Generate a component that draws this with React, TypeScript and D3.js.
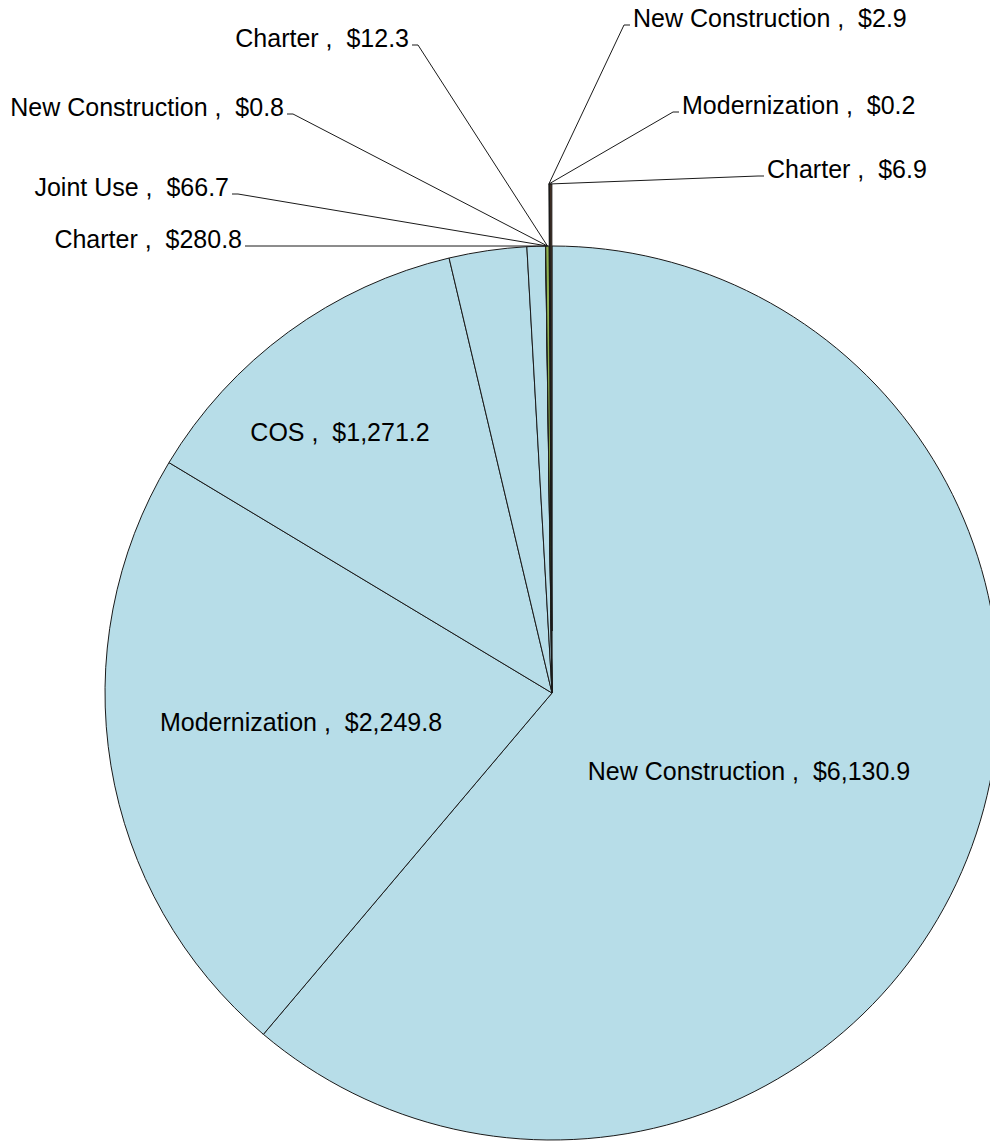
import React, { useEffect, useRef } from 'react';
import * as d3 from 'd3';

const categories = [
  'New Construction',
  'Modernization',
  'COS',
  'Charter',
  'Joint Use',
  'New Construction',
  'Charter',
  'New Construction',
  'Modernization',
  'Charter',
];
const values = [6130.9, 2249.8, 1271.2, 280.8, 66.7, 0.8, 12.3, 2.9, 0.2, 6.9];
// colour group of each slice, and which slices are pulled out of the pie
const groups = [0, 0, 0, 0, 0, 0, 1, 2, 2, 2];
const exploded = [false, false, false, false, false, false, false, true, true, true];

const colors = ['#b7dde8', '#8fb24f', '#5e3f2c'];

// where each label sits (baseline), and which way it is anchored
const labelLayout = [
  { x: 749, y: 780, anchor: 'middle' },
  { x: 301, y: 731, anchor: 'middle' },
  { x: 340, y: 441, anchor: 'middle' },
  { x: 242, y: 248, anchor: 'end' },
  { x: 229, y: 196, anchor: 'end' },
  { x: 284, y: 116, anchor: 'end' },
  { x: 409, y: 47, anchor: 'end' },
  { x: 633, y: 27, anchor: 'start' },
  { x: 682, y: 114, anchor: 'start' },
  { x: 767, y: 178, anchor: 'start' },
];

const App = () => {
  const ref = useRef<SVGSVGElement>(null);

  useEffect(() => {
    const svg = d3.select(ref.current);
    svg.selectAll('*').remove();

    const width = 990;
    const height = 1142;
    const cx = 552;
    const cy = 693;
    const radius = 447;
    const explode = 62;
    const fontSize = 25;

    svg.attr('width', width).attr('height', height);

    const pie = d3
      .pie<number>()
      .sort(null)
      .value((d) => d)
      .startAngle(0)
      .endAngle(2 * Math.PI);
    const arcs = pie(values);

    const arc = d3.arc<d3.PieArcDatum<number>>().innerRadius(0).outerRadius(radius);

    const g = svg.append('g').attr('transform', `translate(${cx}, ${cy})`);

    const offset = (d: d3.PieArcDatum<number>, i: number) => {
      if (!exploded[i]) return [0, 0];
      const mid = (d.startAngle + d.endAngle) / 2;
      return [Math.sin(mid) * explode, -Math.cos(mid) * explode];
    };

    g.selectAll('path.slice')
      .data(arcs)
      .join('path')
      .attr('class', 'slice')
      .attr('d', (d) => arc(d))
      .attr('transform', (d, i) => {
        const [dx, dy] = offset(d, i);
        return `translate(${dx}, ${dy})`;
      })
      .attr('fill', (d, i) => colors[groups[i]])
      .attr('stroke', '#1a1a1a')
      .attr('stroke-width', 1)
      .attr('stroke-linejoin', 'round');

    // leader line anchors: outer edge of the thin slices near 12 o'clock
    const polar = (a: number, r: number) => [Math.sin(a) * r, -Math.cos(a) * r];
    const greenIdx = groups.indexOf(1);
    const leftAnchor = polar((arcs[greenIdx].startAngle + arcs[greenIdx].endAngle) / 2, radius);
    const firstExp = exploded.indexOf(true);
    const expBase = polar(arcs[firstExp].startAngle, radius);
    const [ox, oy] = offset(arcs[firstExp], firstExp);
    const rightAnchor = [expBase[0] + ox, expBase[1] + oy];

    const fmt = d3.format(',.1f');

    const labels = svg.append('g');

    arcs.forEach((d, i) => {
      const lay = labelLayout[i];
      if (lay.anchor !== 'middle') {
        const side = lay.anchor === 'end' ? 1 : -1;
        const anchor = side === 1 ? leftAnchor : rightAnchor;
        const sy = lay.y - 2;
        const x0 = lay.x + side * 3;
        const x1 = lay.x + side * 9;
        labels
          .append('path')
          .attr('d', `M${x0},${sy}L${x1},${sy}L${cx + anchor[0]},${cy + anchor[1]}`)
          .attr('fill', 'none')
          .attr('stroke', '#1a1a1a')
          .attr('stroke-width', 1);
      }
      labels
        .append('text')
        .attr('x', lay.x)
        .attr('y', lay.y)
        .attr('text-anchor', lay.anchor)
        .style('white-space', 'pre')
        .attr('font-family', 'Liberation Sans, Arial, sans-serif')
        .attr('font-size', fontSize)
        .attr('fill', '#000')
        .text(`${categories[i]} ,  $${fmt(d.data)}`);
    });
  }, []);

  return (
    <svg
      ref={ref}
      style={{ position: 'absolute', left: 0, top: 0, display: 'block' }}
    />
  );
};

export default App;
